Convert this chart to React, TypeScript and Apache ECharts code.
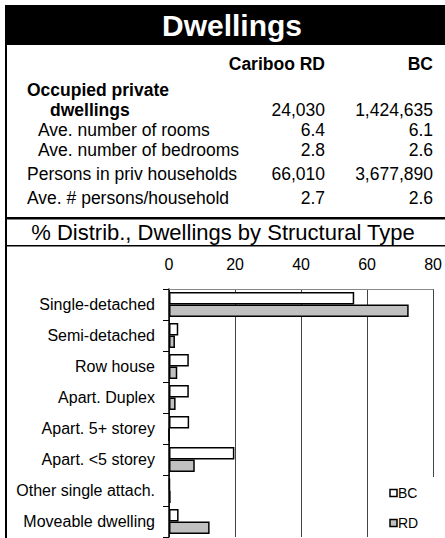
import React, { useEffect, useRef } from "react";
import * as echarts from "echarts";

const categories = [
  "Single-detached",
  "Semi-detached",
  "Row house",
  "Apart. Duplex",
  "Apart. 5+ storey",
  "Apart. <5 storey",
  "Other single attach.",
  "Moveable dwelling",
];
const bcValues = [56.1, 2.8, 6.0, 6.0, 6.1, 19.8, 0.3, 2.9];
const rdValues = [72.6, 1.8, 2.5, 2.0, 0, 7.8, 0.5, 12.3];
const seriesNames = ["BC", "RD"];
const xTicks = { min: 0, max: 80, interval: 20 };

const title = "Dwellings";
const colHeaders = ["Cariboo RD", "BC"];
const rowLabels = [
  "Occupied private",
  "dwellings",
  "Ave. number of rooms",
  "Ave. number of bedrooms",
  "Persons in priv households",
  "Ave. # persons/household",
];
const rdColumn = ["", "24,030", "6.4", "2.8", "66,010", "2.7"];
const bcColumn = ["", "1,424,635", "6.1", "2.6", "3,677,890", "2.6"];
const chartTitle = "% Distrib., Dwellings by Structural Type";

const FONT = "'Liberation Sans', Arial, Helvetica, sans-serif";

// layout of table rows (baseline y, label x, bold)
const rowLayout = [
  { y: 96, x: 27, bold: true },
  { y: 116, x: 50, bold: true },
  { y: 136, x: 38, bold: false },
  { y: 156, x: 38, bold: false },
  { y: 180, x: 27, bold: false },
  { y: 204, x: 27, bold: false },
];

function txt(text: string, x: number, baseline: number, size: number, opts: any = {}) {
  return {
    type: "text",
    x,
    y: baseline - size * 0.35,
    z: 10,
    style: {
      text,
      fill: opts.fill || "#000",
      fontFamily: FONT,
      fontSize: size,
      fontWeight: opts.bold ? "bold" : "normal",
      align: opts.align || "left",
      verticalAlign: "middle",
    },
  };
}

export default function App() {
  const ref = useRef<HTMLDivElement>(null);
  useEffect(() => {
    if (!ref.current) return;
    const chart = echarts.init(ref.current, null, { renderer: "svg" });

    const graphics: any[] = [];
    // title bar
    graphics.push({ type: "rect", shape: { x: 6, y: 5, width: 439, height: 40 }, style: { fill: "#000" }, z: 5 });
    graphics.push(txt(title, 232, 35.5, 30, { bold: true, fill: "#fff", align: "center" }));
    // left border
    graphics.push({ type: "rect", shape: { x: 5, y: 5, width: 2, height: 533 }, style: { fill: "#000" }, z: 5 });
    // column headers
    graphics.push(txt(colHeaders[0], 325, 70, 17.5, { bold: true, align: "right" }));
    graphics.push(txt(colHeaders[1], 433, 70, 17.5, { bold: true, align: "right" }));
    rowLabels.forEach((lab, i) => {
      const r = rowLayout[i];
      graphics.push(txt(lab, r.x, r.y, 17.5, { bold: r.bold }));
      if (rdColumn[i]) graphics.push(txt(rdColumn[i], 325, r.y, 17.5, { align: "right" }));
      if (bcColumn[i]) graphics.push(txt(bcColumn[i], 433, r.y, 17.5, { align: "right" }));
    });
    // dividers
    graphics.push({ type: "rect", shape: { x: 6, y: 217, width: 439, height: 2.5 }, style: { fill: "#000" }, z: 5 });
    graphics.push(txt(chartTitle, 223, 240.5, 22, { align: "center" }));
    graphics.push({ type: "rect", shape: { x: 6, y: 245, width: 439, height: 1.5 }, style: { fill: "#000" }, z: 5 });
    // legend background
    graphics.push({ type: "rect", shape: { x: 378, y: 477, width: 67, height: 61 }, style: { fill: "#fff" }, z: 8 });
    const legendColors = ["#ffffff", "#c0c0c0"];
    const legendY = [493, 523];
    seriesNames.forEach((n, i) => {
      graphics.push({
        type: "rect",
        shape: { x: 390, y: legendY[i] - 3.5, width: 7, height: 7 },
        style: { fill: legendColors[i], stroke: "#000", lineWidth: 1.5 },
        z: 9,
      });
      graphics.push({
        type: "text",
        x: 398,
        y: legendY[i],
        z: 9,
        style: { text: n, fill: "#000", fontFamily: FONT, fontSize: 14, align: "left", verticalAlign: "middle" },
      });
    });

    chart.setOption({
      animation: false,
      backgroundColor: "#fff",
      grid: { left: 169, top: 289, width: 267, height: 248, containLabel: false },
      xAxis: {
        type: "value",
        position: "top",
        min: xTicks.min,
        max: xTicks.max,
        interval: xTicks.interval,
        axisLine: { show: true, lineStyle: { color: "#888", width: 1 } },
        axisTick: { show: false },
        axisLabel: { color: "#000", fontSize: 16, fontFamily: FONT, margin: 17 },
        splitLine: { show: true, lineStyle: { color: "#444", width: 1 } },
      },
      yAxis: {
        type: "category",
        data: categories,
        inverse: true,
        axisLine: { show: true, lineStyle: { color: "#000", width: 1.5 } },
        axisTick: { show: true, length: 6, lineStyle: { color: "#000", width: 1 } },
        axisLabel: { color: "#000", fontSize: 16, fontFamily: FONT, margin: 14 },
        splitLine: { show: false },
      },
      series: [
        {
          name: seriesNames[0],
          type: "bar",
          data: bcValues,
          barWidth: 12.5,
          barGap: "0%",
          itemStyle: { color: "#ffffff", borderColor: "#000", borderWidth: 1.5 },
        },
        {
          name: seriesNames[1],
          type: "bar",
          data: rdValues,
          barWidth: 12.5,
          barGap: "0%",
          itemStyle: { color: "#c0c0c0", borderColor: "#000", borderWidth: 1.5 },
        },
      ],
      graphic: graphics,
    });
    return () => chart.dispose();
  }, []);
  return (
    <div
      ref={ref}
      style={{ position: "absolute", left: 0, top: 0, width: 445, height: 538, background: "#fff" }}
    />
  );
}
